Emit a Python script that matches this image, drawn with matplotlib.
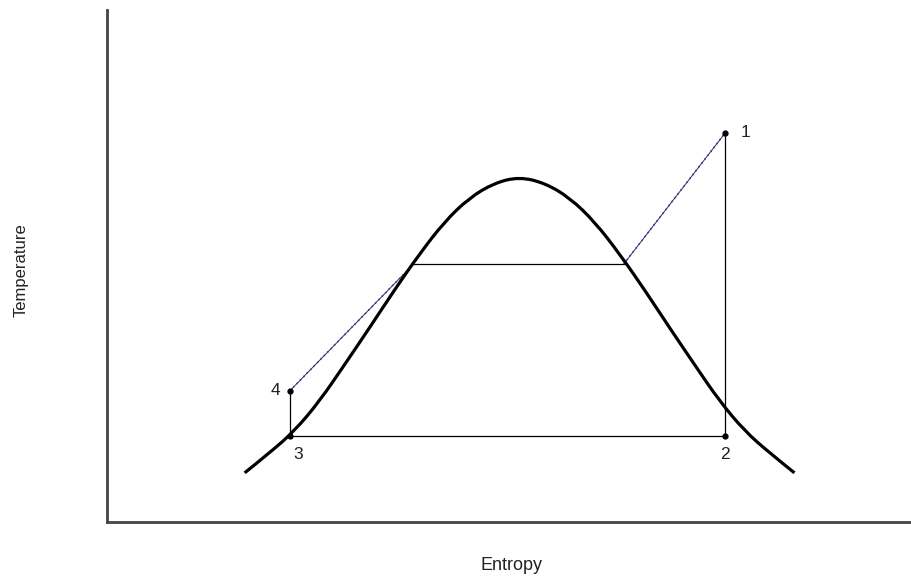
import matplotlib
matplotlib.use("Agg")
import matplotlib.pyplot as plt
from matplotlib.path import Path
from matplotlib.patches import PathPatch

# Saturation dome (entropy, temperature)
dome_s = [1.71, 2.02, 2.33, 2.64, 2.95, 3.26, 3.57, 3.88, 4.19, 4.50, 4.81,
          5.12,
          5.44, 5.75, 6.06, 6.37, 6.68, 6.99, 7.30, 7.61, 7.92, 8.23, 8.54]
dome_t = [0.96, 1.35, 1.78, 2.36, 3.07, 3.79, 4.53, 5.23, 5.86, 6.33, 6.62,
          6.74,
          6.62, 6.33, 5.86, 5.23, 4.53, 3.79, 3.07, 2.36, 1.78, 1.35, 0.96]

# Cycle state points
state_labels = ["1", "2", "3", "4"]
state_s = [7.68, 7.68, 2.27, 2.27]
state_t = [7.60, 1.68, 1.68, 2.56]

# Where the heat-addition path meets the dome
liq_s, liq_t = 3.81, 5.04
vap_s, vap_t = 6.42, 5.04

plt.rcParams["font.family"] = ["Liberation Sans", "DejaVu Sans"]

fig = plt.figure(figsize=(9.12, 5.78), dpi=100)
ax = fig.add_axes([107 / 912, 56 / 578, 805 / 912, 512 / 578])
ax.set_xlim(0, 10)
ax.set_ylim(0, 10)

# Smooth the dome: each read point acts as a quadratic control point,
# the curve runs through the midpoints between neighbours.
pts = list(zip(dome_s, dome_t))
verts = [pts[0]]
codes = [Path.MOVETO]
for i in range(1, len(pts) - 1):
    mid = ((pts[i][0] + pts[i + 1][0]) / 2, (pts[i][1] + pts[i + 1][1]) / 2)
    if i == len(pts) - 2:
        mid = pts[-1]
    verts += [pts[i], mid]
    codes += [Path.CURVE3, Path.CURVE3]
ax.add_patch(PathPatch(Path(verts, codes), facecolor="none", edgecolor="black",
                       lw=2.3, capstyle="butt", zorder=3))

s1, s2, s3, s4 = state_s
t1, t2, t3, t4 = state_t


def dotted(xs, ys):
    ax.plot(xs, ys, color="#333333", lw=0.7, zorder=2)
    ax.plot(xs, ys, color="#2a2ad8", lw=1.1, ls=(0, (1, 2.2)), zorder=2)


# 4 -> saturated liquid, evaporation, saturated vapour -> 1
dotted([s4, liq_s], [t4, liq_t])
ax.plot([liq_s, vap_s], [liq_t, vap_t], color="black", lw=0.9, zorder=2)
dotted([vap_s, s1], [vap_t, t1])
# 1 -> 2 -> 3 -> 4
ax.plot([s1, s2, s3, s4], [t1, t2, t3, t4], color="black", lw=0.9, zorder=2)

ax.plot(state_s, state_t, "o", color="black", ms=3.5, zorder=4)

offsets = {"1": (11, 0, "left", "center"),
           "2": (0, -8, "center", "top"),
           "3": (6, -8, "center", "top"),
           "4": (-7, 0, "right", "center")}
for lab, s, t in zip(state_labels, state_s, state_t):
    dx, dy, ha, va = offsets[lab]
    ax.annotate(lab, (s, t), xytext=(dx, dy), textcoords="offset points",
                ha=ha, va=va, fontsize=12.5, color="#222222")

for side in ("top", "right"):
    ax.spines[side].set_visible(False)
for side in ("left", "bottom"):
    ax.spines[side].set_color("#444444")
    ax.spines[side].set_linewidth(2)
ax.set_xticks([])
ax.set_yticks([])

ax.set_xlabel("Entropy", fontsize=13, color="#222222")
ax.set_ylabel("Temperature", fontsize=12, color="#222222")
ax.xaxis.set_label_coords((511 - 107) / 805, -(566 - 522) / 512)
ax.yaxis.set_label_coords(-(107 - 21) / 805, (522 - 270) / 512)
ax.xaxis.label.set_va("center")
ax.yaxis.label.set_va("center")

fig.savefig("out.png", dpi=100)
